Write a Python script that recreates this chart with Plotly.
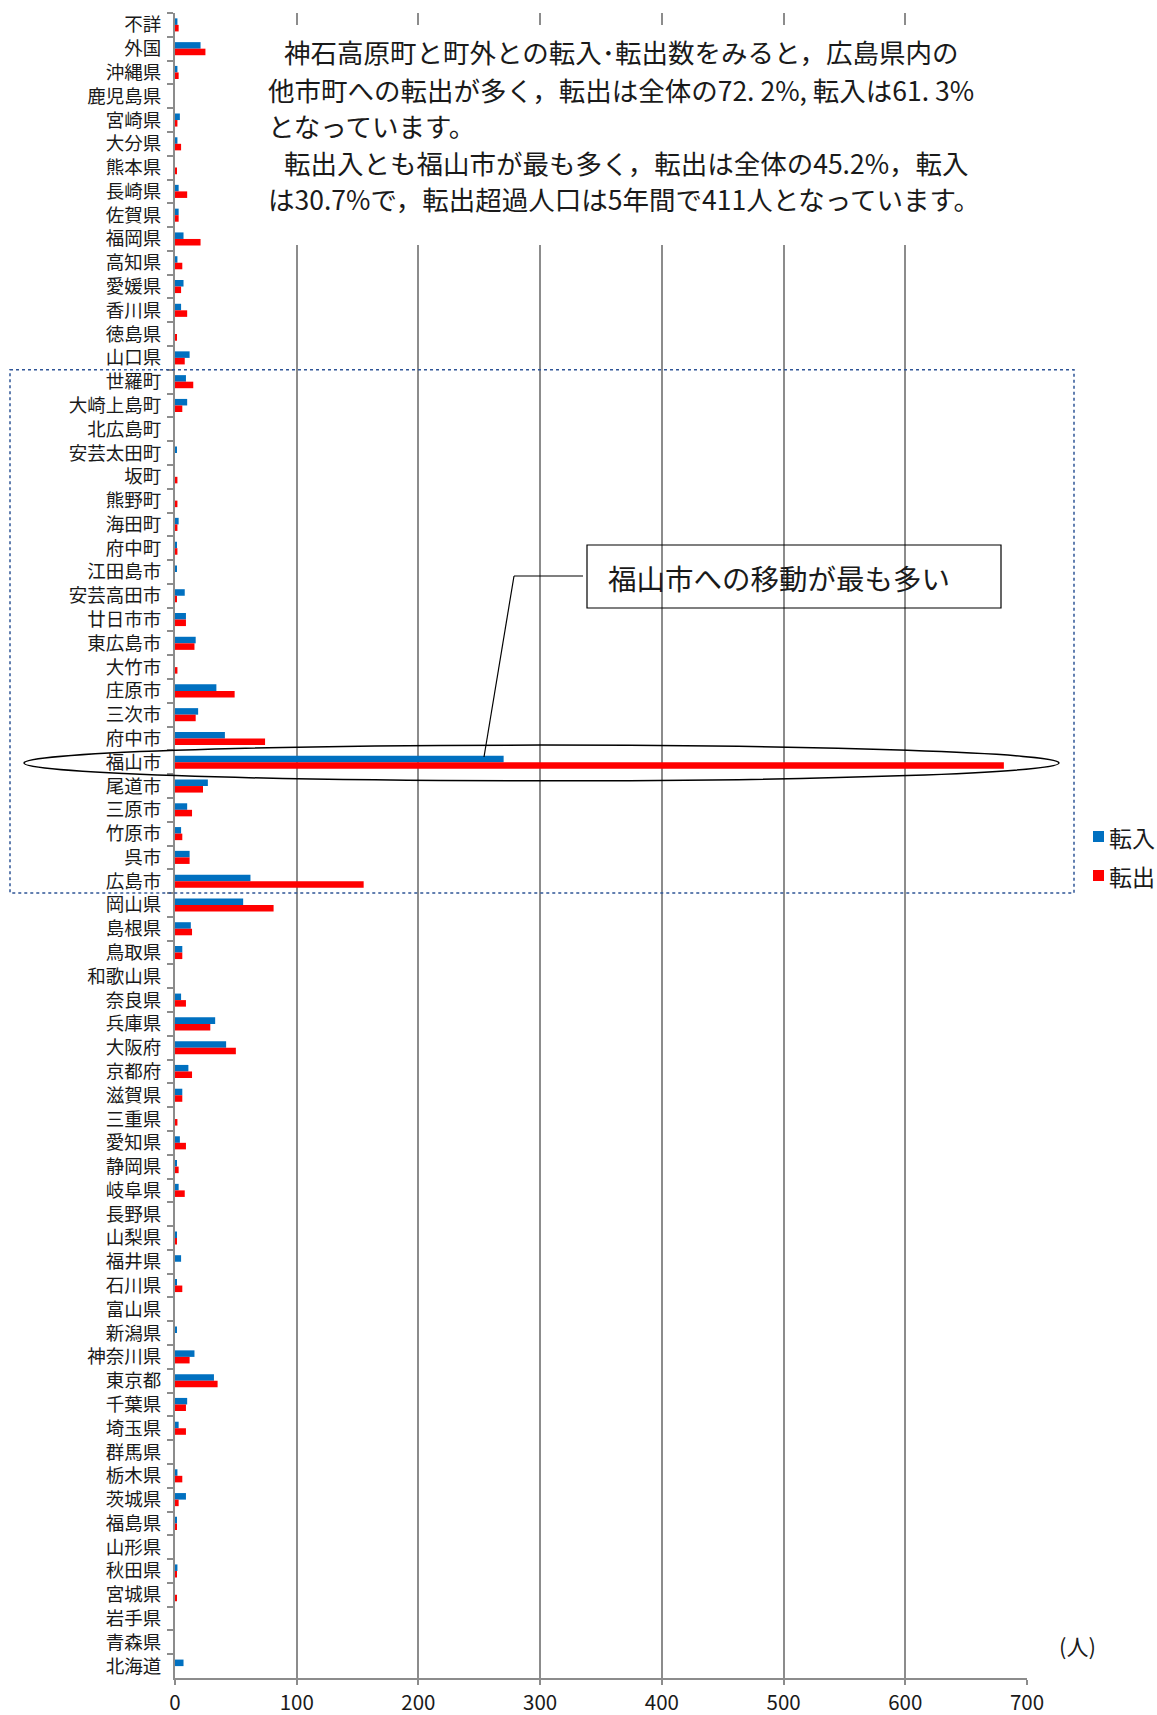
import plotly.graph_objects as go

# Destinations / origins, listed top to bottom as drawn
categories = [
    "不詳", "外国", "沖縄県", "鹿児島県", "宮崎県", "大分県", "熊本県", "長崎県", "佐賀県", "福岡県",
    "高知県", "愛媛県", "香川県", "徳島県", "山口県",
    "世羅町", "大崎上島町", "北広島町", "安芸太田町", "坂町", "熊野町", "海田町", "府中町",
    "江田島市", "安芸高田市", "廿日市市", "東広島市", "大竹市", "庄原市", "三次市", "府中市",
    "福山市", "尾道市", "三原市", "竹原市", "呉市", "広島市",
    "岡山県", "島根県", "鳥取県", "和歌山県", "奈良県", "兵庫県", "大阪府", "京都府", "滋賀県",
    "三重県", "愛知県", "静岡県", "岐阜県", "長野県", "山梨県", "福井県", "石川県", "富山県",
    "新潟県", "神奈川県", "東京都", "千葉県", "埼玉県", "群馬県", "栃木県", "茨城県", "福島県",
    "山形県", "秋田県", "宮城県", "岩手県", "青森県", "北海道",
]

# 転入 (moved in, persons over 5 years)
tennyu = [
    2, 21, 2, 0, 4, 2, 0, 3, 3, 7,
    2, 7, 5, 0, 12,
    9, 10, 0, 1, 0, 0, 3, 1,
    1, 8, 9, 17, 0, 34, 19, 41,
    270, 27, 10, 5, 12, 62,
    56, 13, 6, 0, 5, 33, 42, 11, 6,
    0, 4, 1, 3, 0, 1, 5, 1, 0,
    1, 16, 32, 10, 3, 0, 2, 9, 1,
    0, 2, 0, 0, 0, 7,
]

# 転出 (moved out, persons over 5 years)
tenshutsu = [
    3, 25, 3, 0, 2, 5, 1, 10, 3, 21,
    6, 5, 10, 1, 8,
    15, 6, 0, 0, 2, 2, 2, 2,
    0, 1, 9, 16, 2, 49, 17, 74,
    681, 23, 14, 6, 12, 155,
    81, 14, 6, 0, 9, 29, 50, 14, 6,
    2, 9, 3, 8, 0, 1, 0, 6, 0,
    0, 12, 35, 9, 9, 0, 6, 3, 1,
    0, 1, 1, 0, 0, 0,
]

x_ticks = [0, 100, 200, 300, 400, 500, 600, 700]

BLUE = "#0070C0"
RED = "#FF0000"
GRID = "#8c8c8c"
TEXT = "#1a1a1a"
FONT = "Noto Sans CJK JP"

W, H = 1157, 1715
L, R, T, B = 175, 1027, 13, 1678


def px(xp):
    return (xp - L) / (R - L)


def py(yp):
    return (B - yp) / (B - T)


fig = go.Figure()
fig.add_trace(go.Bar(y=categories, x=tennyu, orientation="h", name="転入",
                     marker=dict(color=BLUE, line=dict(width=0)), showlegend=False))
fig.add_trace(go.Bar(y=categories, x=tenshutsu, orientation="h", name="転出",
                     marker=dict(color=RED, line=dict(width=0)), showlegend=False))

n = len(categories)
i_yamaguchi = categories.index("山口県")
i_hiroshima = categories.index("広島市")
i_fukuyama = categories.index("福山市")

shapes = [
    # white panel behind the commentary text
    dict(type="rect", xref="paper", yref="paper", x0=px(252), x1=px(1010), y0=py(245), y1=py(25),
         fillcolor="white", line=dict(width=0), layer="above"),
    # dotted frame around municipalities inside Hiroshima prefecture
    dict(type="rect", xref="paper", yref="y", x0=px(10), x1=px(1074),
         y0=i_yamaguchi + 0.5, y1=i_hiroshima + 0.5,
         line=dict(color="#2F5597", width=1.5, dash="dot"), layer="above"),
    # ellipse around 福山市
    dict(type="circle", xref="paper", yref="y", x0=px(24), x1=px(1059),
         y0=i_fukuyama - 0.72, y1=i_fukuyama + 0.78,
         line=dict(color="black", width=1.5), layer="above"),
    # callout box
    dict(type="rect", xref="paper", yref="paper", x0=px(587), x1=px(1001), y0=py(608), y1=py(545),
         line=dict(color="black", width=1.2), layer="above"),
    # callout leader
    dict(type="line", xref="paper", yref="paper", x0=px(583), x1=px(514), y0=py(576), y1=py(576),
         line=dict(color="black", width=1.2), layer="above"),
    dict(type="line", xref="paper", yref="paper", x0=px(514), x1=px(484), y0=py(576), y1=py(757),
         line=dict(color="black", width=1.2), layer="above"),
    # legend swatches
    dict(type="rect", xref="paper", yref="paper", x0=px(1093), x1=px(1104), y0=py(842), y1=py(831),
         fillcolor=BLUE, line=dict(width=0), layer="above"),
    dict(type="rect", xref="paper", yref="paper", x0=px(1093), x1=px(1104), y0=py(881), y1=py(870),
         fillcolor=RED, line=dict(width=0), layer="above"),
]

text_lines = [
    (282, 52, "神石高原町と町外との転入･転出数をみると，広島県内の"),
    (266, 89, "他市町への転出が多く，転出は全体の72. 2%, 転入は61. 3%"),
    (266, 125, "となっています。"),
    (282, 162, "転出入とも福山市が最も多く，転出は全体の45.2%，転入"),
    (266, 198, "は30.7%で，転出超過人口は5年間で411人となっています。"),
]

annotations = []
for xp, yp, txt in text_lines:
    annotations.append(dict(text=txt, xref="paper", yref="paper", x=px(xp), y=py(yp),
                            xanchor="left", yanchor="middle", showarrow=False,
                            font=dict(family=FONT, size=26.5, color=TEXT)))

annotations += [
    dict(text="福山市への移動が最も多い", xref="paper", yref="paper", x=px(606), y=py(577),
         xanchor="left", yanchor="middle", showarrow=False,
         font=dict(family=FONT, size=28.5, color=TEXT)),
    dict(text="転入", xref="paper", yref="paper", x=px(1107), y=py(837),
         xanchor="left", yanchor="middle", showarrow=False,
         font=dict(family=FONT, size=23, color=TEXT)),
    dict(text="転出", xref="paper", yref="paper", x=px(1107), y=py(876),
         xanchor="left", yanchor="middle", showarrow=False,
         font=dict(family=FONT, size=23, color=TEXT)),
    dict(text="(人)", xref="paper", yref="paper", x=px(1077), y=py(1645),
         xanchor="center", yanchor="middle", showarrow=False,
         font=dict(family=FONT, size=22, color=TEXT)),
]

fig.update_layout(
    width=W, height=H,
    margin=dict(l=L, r=W - R, t=T, b=H - B, pad=0, autoexpand=False),
    paper_bgcolor="white", plot_bgcolor="white",
    barmode="group", bargap=0.45, bargroupgap=0,
    font=dict(family=FONT, color=TEXT),
    shapes=shapes, annotations=annotations,
    xaxis=dict(range=[0, 700], tickvals=x_ticks, showgrid=True, gridcolor=GRID, gridwidth=2,
               zeroline=False, showline=True, linecolor=GRID, linewidth=2,
               ticks="outside", ticklen=5, tickcolor=GRID, tickwidth=2, automargin=False,
               tickfont=dict(family=FONT, size=20.5, color=TEXT), ticklabelstandoff=0),
    yaxis=dict(type="category", categoryorder="array", categoryarray=categories,
               range=[n - 0.5, -0.5], showgrid=False, zeroline=False,
               showline=True, linecolor=GRID, linewidth=2, automargin=False,
               ticks="outside", tickson="boundaries", ticklen=6, tickcolor=GRID, tickwidth=2,
               tickfont=dict(family=FONT, size=18.5, color=TEXT), ticklabelstandoff=8),
)

fig.write_html("out.html")
